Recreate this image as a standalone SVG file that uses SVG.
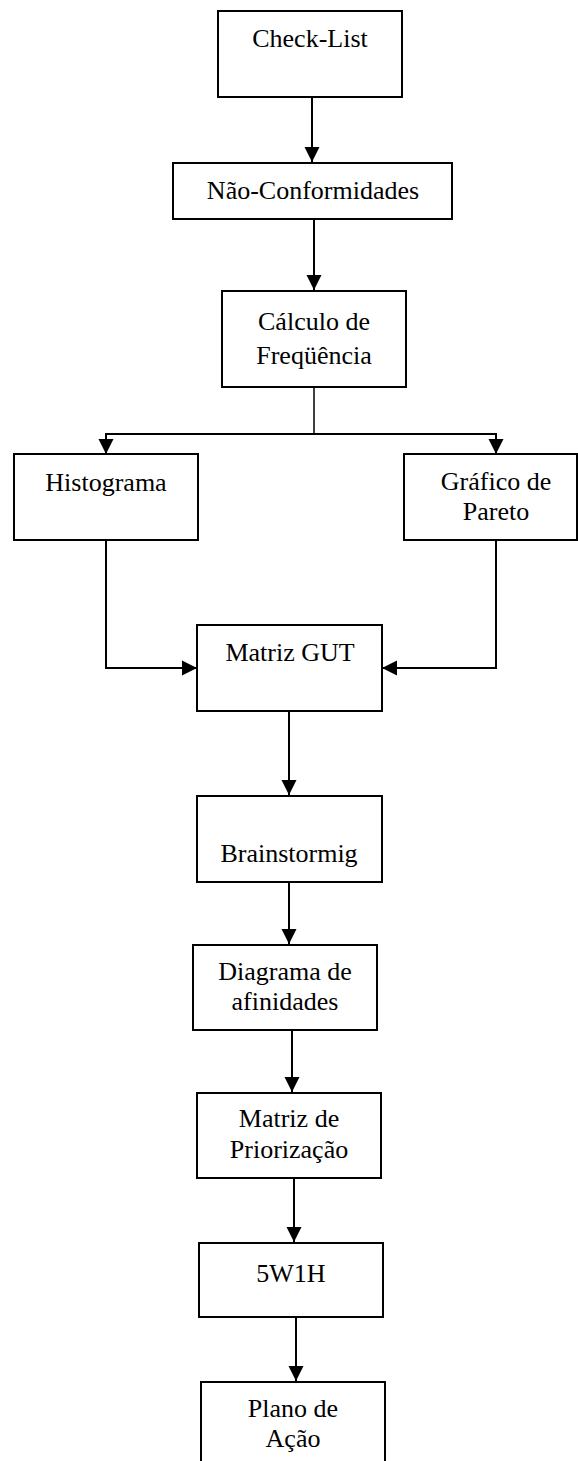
<svg xmlns="http://www.w3.org/2000/svg" width="578" height="1461" viewBox="0 0 578 1461">
<style>
.box{fill:#fff;stroke:#000;stroke-width:2}
.t{font-family:"Liberation Serif","Times New Roman",serif;font-size:26px;fill:#000;text-anchor:middle}
.c{fill:none;stroke:#000;stroke-width:2}
</style>
<defs>
<marker id="ah" markerUnits="userSpaceOnUse" markerWidth="16" markerHeight="16" viewBox="0 0 16 16" refX="15" refY="8" orient="auto">
<path d="M0,0.5 L15,8 L0,15.5 Z" fill="#000"/>
</marker>
</defs>
<rect width="578" height="1461" fill="#fff"/>
<g id="connectors">
<line class="c" x1="312" y1="97" x2="312" y2="162" marker-end="url(#ah)"/>
<line class="c" x1="314" y1="219" x2="314" y2="290" marker-end="url(#ah)"/>
<polyline class="c" style="stroke-width:1.5" points="314,387 314,434"/>
<polyline class="c" points="106,454 106,434 496,434 496,454"/>
<line class="c" x1="106" y1="434" x2="106" y2="454" marker-end="url(#ah)"/>
<line class="c" x1="496" y1="434" x2="496" y2="454" marker-end="url(#ah)"/>
<polyline class="c" points="106,540 106,668 197,668" marker-end="url(#ah)"/>
<polyline class="c" points="496,540 496,668 382,668" marker-end="url(#ah)"/>
<line class="c" x1="289" y1="711" x2="289" y2="795" marker-end="url(#ah)"/>
<line class="c" x1="289" y1="882" x2="289" y2="944" marker-end="url(#ah)"/>
<line class="c" x1="292" y1="1030" x2="292" y2="1092" marker-end="url(#ah)"/>
<line class="c" x1="294" y1="1178" x2="294" y2="1242" marker-end="url(#ah)"/>
<line class="c" x1="296" y1="1317" x2="296" y2="1381" marker-end="url(#ah)"/>
</g>
<g id="checklist">
<rect class="box" x="218" y="11" width="184" height="86"/>
<text class="t" x="310" y="47">Check-List</text>
</g>
<g id="naoconformidades">
<rect class="box" x="173" y="163" width="279" height="56"/>
<text class="t" x="313" y="199">Não-Conformidades</text>
</g>
<g id="calculo">
<rect class="box" x="222" y="291" width="184" height="96"/>
<text class="t" x="314" y="330">Cálculo de</text>
<text class="t" x="314" y="364">Freqüência</text>
</g>
<g id="histograma">
<rect class="box" x="14" y="454" width="184" height="86"/>
<text class="t" x="106" y="491">Histograma</text>
</g>
<g id="pareto">
<rect class="box" x="404" y="454" width="173" height="86"/>
<text class="t" x="496" y="490">Gráfico de</text>
<text class="t" x="496" y="520">Pareto</text>
</g>
<g id="gut">
<rect class="box" x="197" y="625" width="185" height="86"/>
<text class="t" x="290" y="661">Matriz GUT</text>
</g>
<g id="brainstorming">
<rect class="box" x="197" y="796" width="185" height="86"/>
<text class="t" x="289" y="862">Brainstormig</text>
</g>
<g id="afinidades">
<rect class="box" x="193" y="945" width="184" height="85"/>
<text class="t" x="285" y="980">Diagrama de</text>
<text class="t" x="285" y="1010">afinidades</text>
</g>
<g id="priorizacao">
<rect class="box" x="197" y="1093" width="184" height="85"/>
<text class="t" x="289" y="1127">Matriz de</text>
<text class="t" x="289" y="1158">Priorização</text>
</g>
<g id="w5h1">
<rect class="box" x="199" y="1243" width="184" height="74"/>
<text class="t" x="291" y="1282">5W1H</text>
</g>
<g id="plano">
<rect class="box" x="201" y="1382" width="184" height="90"/>
<text class="t" x="293" y="1417">Plano de</text>
<text class="t" x="293" y="1447">Ação</text>
</g>
</svg>
